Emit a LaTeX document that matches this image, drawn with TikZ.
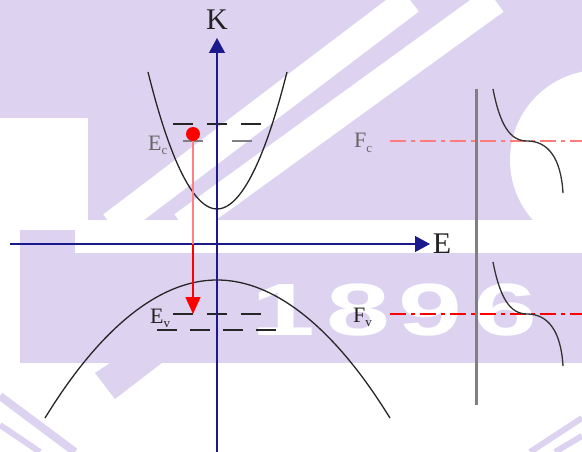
\documentclass[tikz,border=0pt]{standalone}
\usepackage{fontspec}
\setmainfont{Liberation Serif}
\setsansfont{Liberation Sans}
\usetikzlibrary{arrows.meta}
\definecolor{cnavy}{HTML}{1A1A8C}
\definecolor{clav}{HTML}{DDD3F1}
\definecolor{csalmon}{HTML}{FF7C7C}
\definecolor{cgrayl}{HTML}{808080}
\definecolor{ctextd}{HTML}{222222}
\newcommand{\lvlname}[2]{#1\raisebox{-0.45ex}{\fontsize{13}{13}\selectfont #2}}
\tikzset{
  axis/.style={
    draw=cnavy, line width=1.4pt,
    -{Triangle[length=15pt,width=16pt]},
  },
  band/.style={draw=black!85, line width=1.3pt},
  level/.style={draw=black!85, line width=1.8pt, dash pattern=on 20pt off 14pt},
  fermi/.style={line width=2pt, dash pattern=on 16pt off 5pt on 4pt off 5pt},
  occ/.style={draw=black!80, line width=1.3pt},
  axlbl/.style={font=\fontsize{30}{30}\selectfont, text=ctextd, inner sep=0pt},
  lvllbl/.style={font=\fontsize{22}{22}\selectfont, text=ctextd,
    inner sep=0pt, anchor=base west},
  wmgap/.style={draw=white, line width=29pt},
  wmdigit/.style={font=\sffamily\bfseries\fontsize{74}{74}\selectfont,
    text=white, inner sep=0pt, xscale=1.55},
}

\begin{document}
\begin{tikzpicture}[x=1pt, y=-1pt]
\useasboundingbox (0,0) rectangle (582,452);

%% ── watermark ─────────────────────────────────────────────
\fill[clav] (0,0) rectangle (582,220);
\fill[white] (0,118) rectangle (88,226);
\draw[wmgap] (112,226) -- (410,0);
\draw[wmgap] (183,226) -- (495,0);
\fill[white] (600,160) circle (90);
\fill[clav] (20,253) rectangle (582,363);
\fill[clav] (20,230) rectangle (75,253);
\fill[clav] (95,373) -- (150,336) -- (167,359) -- (115,399) -- cycle;
\draw[clav, line width=8pt] (0,396) -- (75,452);
\draw[clav, line width=6pt] (0,425) -- (40,452);
\draw[clav, line width=6pt] (530,452) -- (582,418);
\draw[clav, line width=6pt] (555,452) -- (582,436);
\foreach \d/\x in {1/283,8/358,9/430,6/505}
  \node[wmdigit] (wm\d) at (\x,310) {\d};

%% ── bands ─────────────────────────────────────────────────
\draw[band] (148,72) parabola bend (217,209) (287,72);
\draw[band] (45,418) parabola bend (217,280) (390,418);

%% ── levels ────────────────────────────────────────────────
\draw[level] (173,124) -- (263,124);
\draw[level, draw=cgrayl, dash pattern=on 20pt off 29pt] (183,141) -- (253,141);
\draw[level] (173,314) -- (263,314);
\draw[level, dash pattern=on 20pt off 13pt] (157,330) -- (280,330);

\node[lvllbl, text=black!60] (EcLbl) at (148,150) {\lvlname{E}{c}};
\node[lvllbl] (EvLbl) at (150,323) {\lvlname{E}{v}};
\node[lvllbl, text=black!60] (FcLbl) at (354,148) {\lvlname{F}{c}};
\node[lvllbl] (FvLbl) at (353,322) {\lvlname{F}{v}};

%% ── axes ──────────────────────────────────────────────────
\coordinate (Kbot) at (217,452);
\coordinate (Ktip) at (217,38);
\coordinate (Eleft) at (10,244);
\coordinate (Etip) at (430,244);
\draw[axis] (Kbot) -- (Ktip);
\draw[axis] (Eleft) -- (Etip);
\node[axlbl] (Klbl) at (217,20) {K};
\node[axlbl] (Elbl) at (442,244) {E};

%% ── occupation ────────────────────────────────────────────
\coordinate (occtop) at (476,89);
\coordinate (occbot) at (476,405);
\draw[cgrayl, line width=3pt] (occtop) -- (occbot);

\coordinate (FcL) at (390,141);
\coordinate (FcR) at (582,141);
\coordinate (FvL) at (390,314);
\coordinate (FvR) at (582,314);
\draw[fermi, draw=csalmon, line width=2.6pt] (FcL) -- (FcR);
\draw[fermi, draw=red] (FvL) -- (FvR);

\draw[occ] (493,89) .. controls (500,125) and (510,141) .. (527,141)
  .. controls (548,141) and (561,158) .. (563,193);
\draw[occ] (493,262) .. controls (500,298) and (510,314) .. (527,314)
  .. controls (548,314) and (561,331) .. (563,366);

%% ── transition ────────────────────────────────────────────
\node[circle, fill=red, inner sep=0pt, minimum size=14pt] (elec) at (193,134) {};
\coordinate (hole) at (193,314);
\draw[red!50, line width=1.5pt] (elec) -- (elec |- Eleft);
\draw[red, line width=1.5pt, -{Triangle[length=17pt,width=15pt]}]
  (elec |- Eleft) -- (hole);

\end{tikzpicture}
\end{document}
